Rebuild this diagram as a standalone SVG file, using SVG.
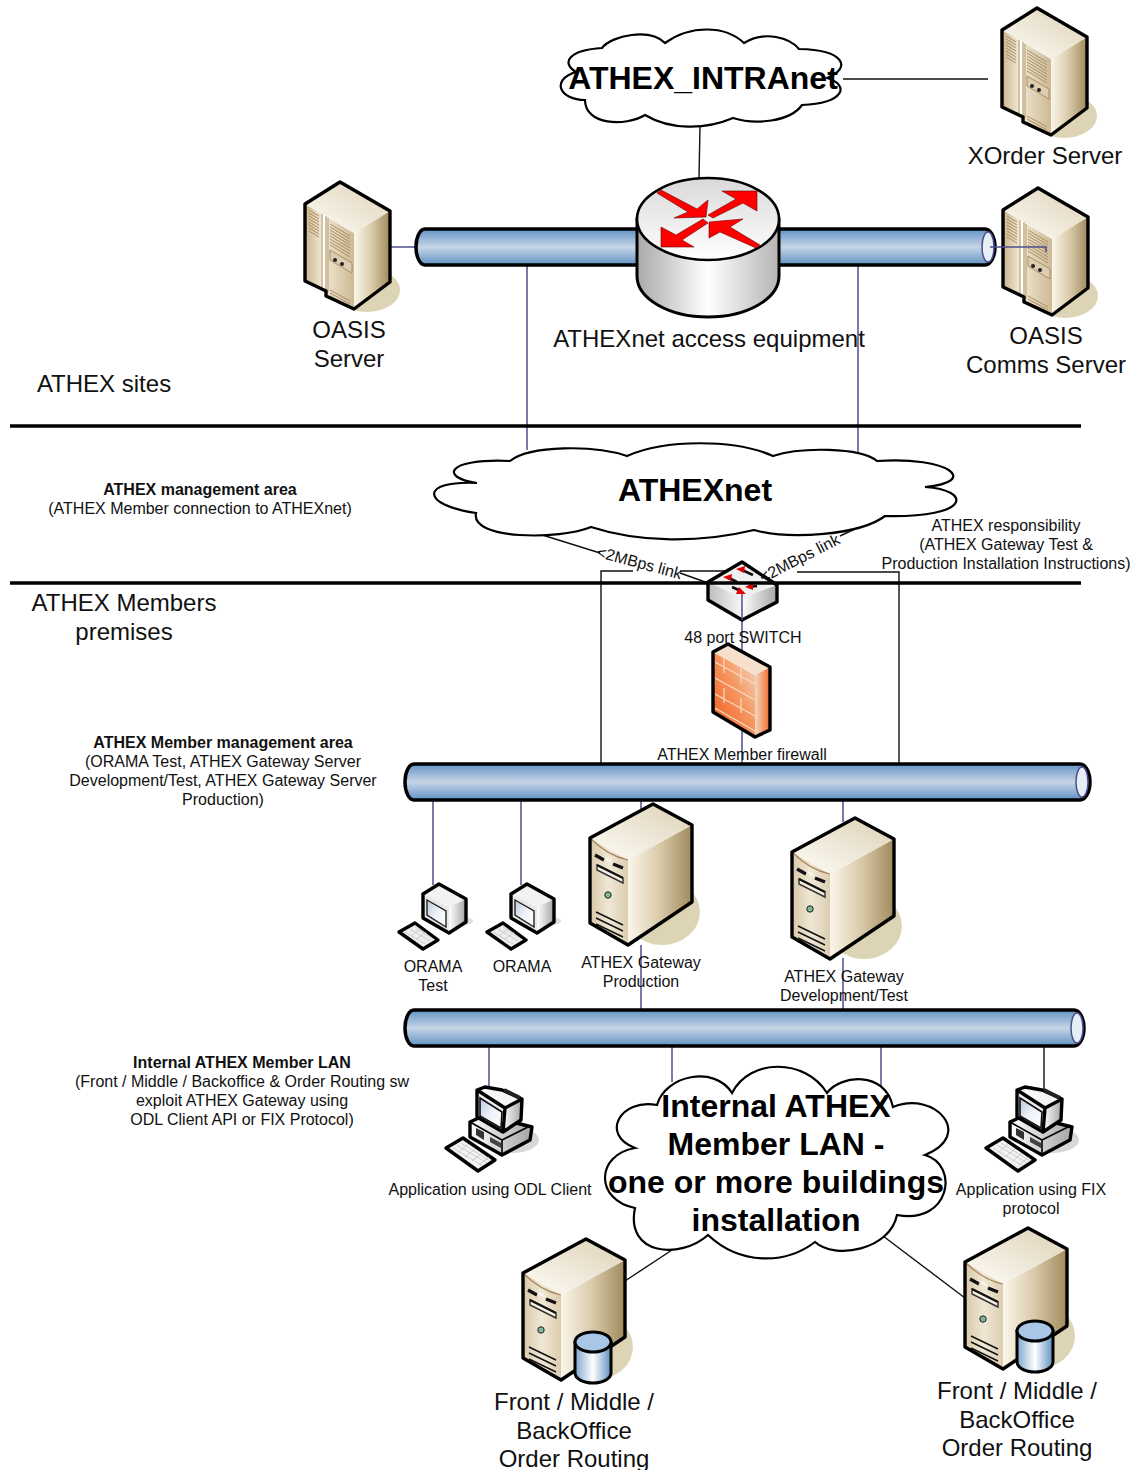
<svg xmlns="http://www.w3.org/2000/svg" xmlns:xlink="http://www.w3.org/1999/xlink" width="1133" height="1470" viewBox="0 0 1133 1470">
<style>
text{font-family:"Liberation Sans",Arial,sans-serif;fill:#111;text-anchor:middle}
.s{font-size:16px}.m{font-size:24px}.l{font-size:32px;font-weight:bold;fill:#000}.b{font-weight:bold}
.c{fill:none;stroke:#4e4e8e;stroke-width:1.5}
.k{fill:none;stroke:#111;stroke-width:1.4}
.sep{fill:none;stroke:#000;stroke-width:3.5}
.o{stroke:#000;stroke-width:3.4;stroke-linejoin:round}
.cloud{fill:#fff;stroke:#000;stroke-width:2.2;stroke-linejoin:miter}
.tube{fill:url(#tube);stroke:#000;stroke-width:3.5}
.end{fill:#e6eef6;stroke:#4e4e8e;stroke-width:1.5}
.red{fill:#f00;stroke:#600;stroke-width:.6}
.v{fill:none;stroke:#a98f63;stroke-width:1}
.d{fill:none;stroke:#111;stroke-width:1.4}
.br{fill:none;stroke:#f5dcc4;stroke-width:1.2}
.key{fill:none;stroke:#c4c4c4;stroke-width:.8}
</style>
<defs>
<linearGradient id="tube" x1="0" y1="0" x2="0" y2="1"><stop offset="0" stop-color="#5f93c4"/><stop offset=".5" stop-color="#c8d5e6"/><stop offset="1" stop-color="#5f93c4"/></linearGradient>
<linearGradient id="front" x1="0" y1="0" x2="1" y2="0"><stop offset="0" stop-color="#c9b48d"/><stop offset=".35" stop-color="#f2e9d6"/><stop offset="1" stop-color="#cdb995"/></linearGradient>
<linearGradient id="tfront" x1="0" y1="0" x2="1" y2="0"><stop offset="0" stop-color="#d8c8a8"/><stop offset=".5" stop-color="#efe7d5"/><stop offset="1" stop-color="#dccdb0"/></linearGradient>
<linearGradient id="side" x1="0" y1="0" x2="1" y2="0"><stop offset="0" stop-color="#fbf6ea"/><stop offset=".5" stop-color="#d9c9a8"/><stop offset="1" stop-color="#a08a5e"/></linearGradient>
<linearGradient id="topf" x1="0" y1="1" x2="1" y2="0"><stop offset="0" stop-color="#fffdf8"/><stop offset="1" stop-color="#ddd1b6"/></linearGradient>
<linearGradient id="rb" x1="0" y1="0" x2="1" y2="0"><stop offset="0" stop-color="#a9a9a9"/><stop offset=".5" stop-color="#fff"/><stop offset="1" stop-color="#b5b5b5"/></linearGradient>
<linearGradient id="rt" x1="0" y1="0" x2="0" y2="1"><stop offset="0" stop-color="#d9d9d9"/><stop offset="1" stop-color="#fff"/></linearGradient>
<linearGradient id="gl" x1="0" y1="0" x2="1" y2="0"><stop offset="0" stop-color="#bdbdbd"/><stop offset="1" stop-color="#f7f7f7"/></linearGradient>
<linearGradient id="gr" x1="0" y1="0" x2="1" y2="0"><stop offset="0" stop-color="#fff"/><stop offset="1" stop-color="#a4a4a4"/></linearGradient>
<linearGradient id="scr" x1="0" y1="0" x2="1" y2="1"><stop offset="0" stop-color="#b9c7de"/><stop offset=".5" stop-color="#eef2f9"/><stop offset="1" stop-color="#fff"/></linearGradient>
<linearGradient id="fw" x1="0" y1="1" x2="1" y2="0"><stop offset="0" stop-color="#f0581c"/><stop offset=".55" stop-color="#f6955f"/><stop offset="1" stop-color="#efe0cc"/></linearGradient>
<linearGradient id="fws" x1="0" y1="0" x2="1" y2="0"><stop offset="0" stop-color="#f2d8c0"/><stop offset="1" stop-color="#f26a28"/></linearGradient>
<linearGradient id="db" x1="0" y1="0" x2="1" y2="0"><stop offset="0" stop-color="#7fa6cf"/><stop offset=".5" stop-color="#fff"/><stop offset="1" stop-color="#5f8fc0"/></linearGradient>

<g id="rack">
<ellipse cx="62" cy="108" rx="33" ry="22" fill="#ddd3b5"/>
<polygon points="0,22 49,51 49,127 21,114 21,109 0,99" fill="url(#front)"/>
<polygon points="49,51 85,29 85,100 49,127" fill="url(#side)"/>
<polygon points="0,22 35,0 85,29 49,51" fill="url(#topf)"/>
<path d="M17,32V107M21,34V109M23,36V110" fill="none" stroke="#b59d74" stroke-width="1"/><path d="M19,33V108" stroke="#fff" stroke-width="2"/>
<path class="v" d="M4,28L14,34M4,31L14,37M4,34L14,40M4,37L14,43M4,40L14,46M4,43L14,49M4,46L14,52M4,49L14,55"/>
<path class="v" d="M25,42L45,54M25,45L45,57M25,48L45,60M25,51L45,63M25,54L45,66M25,57L45,69M25,60L45,72M25,63L45,75"/>
<polygon points="25,68 47,81 47,91 25,78" fill="#dccdb0" stroke="#a98f63"/>
<circle cx="30" cy="78" r="2" fill="#222"/><circle cx="37" cy="82" r="2" fill="#222"/>
<path class="v" d="M25,108L45,119M25,111L45,122M25,114L45,125"/>
<path class="o" fill="none" d="M0,22L35,0L85,29V100L49,127L21,114V109L0,99Z"/>
</g>

<g id="tower">
<ellipse cx="72" cy="108" rx="38" ry="33" fill="#ddd3b5"/>
<polygon points="0,34 38,56 38,141 0,119" fill="url(#tfront)"/>
<polygon points="38,56 102,21 102,98 38,141" fill="url(#side)"/>
<polygon points="0,34 63,0 102,21 38,56" fill="url(#topf)"/>
<path d="M0,34Q18,52 38,56" fill="none" stroke="#a58554" stroke-width="1.2"/>
<path d="M5,51L14,56M23,60L33,64" stroke="#111" stroke-width="3.2" fill="none"/>
<path d="M14,55Q18,50 23,59Z" fill="#f8f4ea"/>
<path d="M7,61L33,74V79L7,66Z" fill="#f4eee0" stroke="#333" stroke-width="1.4"/>
<path d="M7,61L33,74" stroke="#111" stroke-width="2" fill="none"/>
<circle cx="18" cy="91" r="3.2" fill="#7fb59a" stroke="#222" stroke-width="1"/>
<path class="d" d="M6,108L33,121M6,114L33,127M6,120L33,133"/>
<path class="o" fill="none" d="M0,34L63,0L102,21V98L38,141L0,119Z"/>
</g>

<g id="dbc">
<path d="M52,103V134A18,10 0 0 0 88,134V103Z" fill="url(#db)" stroke="#000" stroke-width="3"/>
<ellipse cx="70" cy="103" rx="18" ry="10" fill="#a9c6e6" stroke="#000" stroke-width="3"/>
</g>

<g id="ws">
<ellipse cx="32" cy="37" rx="18" ry="5" fill="#ddd"/>
<polygon points="0,10 16,0 43,15 26,23" fill="#f2f2f2"/>
<polygon points="0,10 26,23 26,49 0,34" fill="#e8e8e8"/>
<polygon points="26,23 43,15 43,38 26,49" fill="url(#gr)"/>
<polygon points="4,16 23,27 23,43 4,31" fill="url(#scr)" stroke="#222" stroke-width="1.4"/>
<path class="o" fill="none" d="M0,10L16,0L43,15V38L26,49L0,34Z"/>
<polygon points="-24,48 -8,39 15,56 0,65" fill="#eee" class="o"/>
<path class="key" d="M-18,48L2,60M-13,45L7,57M-8,43L10,55M-12,52L-3,45M-6,55L3,48"/>
</g>

<g id="pc">
<ellipse cx="42" cy="50" rx="27" ry="13" fill="#d8d8d8"/>
<polygon points="0,32 15,25 62,37 60,50 32,65 0,47" fill="url(#gr)" class="o"/>
<path d="M0,32L32,50V65M32,50L60,36" fill="none" stroke="#000" stroke-width="1.6"/>
<path d="M6,38L14,42V50L6,45Z" fill="#333"/><path d="M20,47L31,53V58L20,52Z" fill="#444"/>
<polygon points="35,18 52,9 51,30 33,42" fill="url(#gr)"/>
<polygon points="7,0 15,-3 32,0 52,9 35,18" fill="#f6f6f6"/>
<polygon points="7,0 35,18 33,42 7,27" fill="#ececec"/>
<polygon points="10,8 32,22 31,38 10,26" fill="url(#scr)" stroke="#111" stroke-width="1.6"/>
<path class="o" fill="none" d="M7,0L15,-3L32,0L52,9L51,30L33,42L7,27ZM7,0L35,18L33,42M35,18L52,9" stroke-width="2.8"/>
<path d="M34,0L50,8" stroke="#222" stroke-width="4"/>
<polygon points="-24,58 -7,48 25,70 8,81" fill="#f2f2f2" class="o"/>
<path class="key" d="M-17,58L13,76M-13,55L17,73M-9,53L20,71M-12,63L-2,54M-5,67L5,59M2,71L12,63M9,75L19,67"/>
</g>
</defs>

<g id="connectors">
<path class="k" d="M700,126L699,178M843,79H988"/>
<path class="c" d="M391,247H416M527,265V450M858,265V455"/>
<path class="k" d="M536,533L600,553M680,573L708,583M840,536L857,528M762,577L748,582"/>
<path class="k" d="M601,764V571H633M680,571H725M797,572H899V764"/>
<path class="c" d="M742,598V764"/>
<path class="c" d="M433,800V885M521,800V885M641,800V812M843,800V822M641,945V1010M843,958V1010"/>
<path class="c" d="M489,1046V1092M672,1046V1082M881,1046V1092"/>
<path class="k" d="M1044,1046V1090"/>
<path class="k" d="M672,1250L625,1281M883,1236L965,1298"/>
</g>

<g id="tube-1"><path class="tube" d="M425,229H985A10,18 0 0 1 985,265H425A9,18 0 0 1 425,229Z"/><ellipse class="end" cx="988" cy="247" rx="6" ry="15"/></g>
<g id="tube-2"><path class="tube" d="M414,764H1080A10,18 0 0 1 1080,800H414A9,18 0 0 1 414,764Z"/><ellipse class="end" cx="1082" cy="782" rx="6" ry="15"/></g>
<g id="tube-3"><path class="tube" d="M414,1010H1074A10,18 0 0 1 1074,1046H414A9,18 0 0 1 414,1010Z"/><ellipse class="end" cx="1077" cy="1028" rx="6" ry="15"/></g>

<g id="intranet-cloud">
<path class="cloud" d="M576,72C560,62 570,50 602,48C612,35 650,28 665,43C690,25 725,25 744,43C765,30 790,38 799,49C845,50 852,68 827,78C850,85 845,103 802,105C790,122 755,125 733,118C705,130 670,130 645,115C625,127 585,125 585,100C560,100 550,80 576,72Z"/>
<text class="l" x="703" y="89">ATHEX_INTRAnet</text>
</g>

<g id="xorder-server"><use href="#rack" x="1002" y="8"/><text class="m" x="1045" y="164">XOrder Server</text></g>
<g id="oasis-server"><use href="#rack" x="305" y="182"/><text class="m" x="349" y="338">OASIS</text><text class="m" x="349" y="367">Server</text></g>
<g id="oasis-comms-server"><use href="#rack" x="1003" y="188"/><path class="c" d="M990,247H1046V252"/><text class="m" x="1046" y="344">OASIS</text><text class="m" x="1046" y="373">Comms Server</text></g>

<g id="access-equipment">
<path d="M637,219V276A71,41 0 0 0 779,276V219Z" fill="url(#rb)" stroke="#000" stroke-width="3"/>
<ellipse cx="708" cy="219" rx="71" ry="41" fill="url(#rt)" stroke="#000" stroke-width="2.6"/>
<polygon class="red" points="661,190 697,209 708,200 706,217 674,218 688,212 657,193"/>
<polygon class="red" points="757,191 757,211 743,203 713,218 708,215 736,199 722,191"/>
<polygon class="red" points="661,247 661,227 676,235 703,219 708,223 682,240 694,247"/>
<polygon class="red" points="709,222 743,219 730,227 760,245 756,248 720,232 709,238"/>
<text class="m" x="709" y="347">ATHEXnet access equipment</text>
</g>

<g id="athexnet-cloud">
<path class="cloud" d="M476,513C420,505 420,480 477,483C440,478 445,458 510,461C530,445 595,445 627,456C665,439 735,439 773,456C800,447 860,447 877,461C950,456 980,482 925,487C972,490 972,518 885,516C860,535 790,540 754,530C700,543 640,543 591,527C560,540 470,540 476,513Z"/>
<text class="l" x="695" y="501">ATHEXnet</text>
</g>

<g id="switch">
<polygon points="708,582 742,562 777,585 742,598" fill="#f0f0f0"/>
<polygon points="708,582 742,598 742,620 708,600" fill="url(#gl)"/>
<polygon points="742,598 777,585 777,602 742,620" fill="url(#gr)"/>
<path class="o" fill="none" d="M708,582L742,562L777,585V602L742,620L708,600Z"/>
<path d="M742,570L753,575M729,578L737,582M741,591L732,587M757,586L748,587" stroke="#111" stroke-width="2.6" fill="none"/>
<path d="M736,569L745,566L744,573ZM723,577L732,574L731,581ZM746,594L736,594L739,587ZM745,587L753,583L753,590Z" fill="#e00000"/>
<path class="c" d="M742,594V620"/>
<text class="s" x="743" y="643">48 port SWITCH</text>
</g>

<g id="separators">
<path class="sep" d="M10,426H1081M10,583H1081"/>
</g>

<g id="firewall">
<polygon points="713,652 755,675 755,737 713,712" fill="url(#fw)"/>
<polygon points="755,675 770,667 770,730 755,737" fill="url(#fws)"/>
<polygon points="713,652 728,644 770,667 755,675" fill="#f6e0cb"/>
<path class="br" d="M715,662L755,684M715,678L755,700M715,694L755,716M715,708L755,731M724,657V673M741,667V684M724,688V703M741,698V713"/>
<path class="o" fill="none" d="M713,652L728,644L770,667V730L755,737L713,712Z"/>
<text class="s" x="742" y="760">ATHEX Member firewall</text>
</g>

<g id="link-labels">
<text class="s" transform="translate(638,568) rotate(15)">&lt;2MBps link</text>
<text class="s" transform="translate(802,563) rotate(-27)">&lt;2MBps link</text>
</g>

<g id="orama-test"><use href="#ws" x="423" y="884"/><text class="s" x="433" y="972">ORAMA</text><text class="s" x="433" y="991">Test</text></g>
<g id="orama"><use href="#ws" x="511" y="884"/><text class="s" x="522" y="972">ORAMA</text></g>
<g id="gateway-production"><use href="#tower" x="590" y="804"/><text class="s" x="641" y="968">ATHEX Gateway</text><text class="s" x="641" y="987">Production</text></g>
<g id="gateway-development"><use href="#tower" x="792" y="818"/><text class="s" x="844" y="982">ATHEX Gateway</text><text class="s" x="844" y="1001">Development/Test</text></g>

<g id="app-odl"><use href="#pc" x="470" y="1090"/><text class="s" x="490" y="1195">Application using ODL Client</text></g>
<g id="app-fix"><use href="#pc" x="1010" y="1090"/><text class="s" x="1031" y="1195">Application using FIX</text><text class="s" x="1031" y="1214">protocol</text></g>

<g id="internal-lan-cloud">
<path class="cloud" d="M635,1148C600,1135 620,1098 657,1105C665,1075 715,1065 732,1093C750,1058 805,1058 827,1093C840,1075 885,1070 893,1107C935,1090 975,1135 925,1155C960,1165 950,1225 897,1215C890,1250 835,1260 815,1242C785,1265 740,1265 708,1235C680,1260 625,1255 635,1208C595,1200 595,1155 635,1148Z"/>
<text class="l" x="776" y="1117">Internal ATHEX</text>
<text class="l" x="776" y="1155">Member LAN -</text>
<text class="l" x="776" y="1193">one or more buildings</text>
<text class="l" x="776" y="1231">installation</text>
</g>

<g id="backoffice-1"><use href="#tower" x="523" y="1239"/><use href="#dbc" x="523" y="1239"/><text class="m" x="574" y="1410">Front / Middle /</text><text class="m" x="574" y="1439">BackOffice</text><text class="m" x="574" y="1467">Order Routing</text></g>
<g id="backoffice-2"><use href="#tower" x="965" y="1228"/><use href="#dbc" x="965" y="1228"/><text class="m" x="1017" y="1399">Front / Middle /</text><text class="m" x="1017" y="1428">BackOffice</text><text class="m" x="1017" y="1456">Order Routing</text></g>

<g id="area-labels">
<text class="m" x="104" y="392">ATHEX sites</text>
<text class="s b" x="200" y="495">ATHEX management area</text>
<text class="s" x="200" y="514">(ATHEX Member connection to ATHEXnet)</text>
<text class="s" x="1006" y="531">ATHEX responsibility</text>
<text class="s" x="1006" y="550">(ATHEX Gateway Test &amp;</text>
<text class="s" x="1006" y="569">Production Installation Instructions)</text>
<text class="m" x="124" y="611">ATHEX Members</text>
<text class="m" x="124" y="640">premises</text>
<text class="s b" x="223" y="748">ATHEX Member management area</text>
<text class="s" x="223" y="767">(ORAMA Test, ATHEX Gateway Server</text>
<text class="s" x="223" y="786">Development/Test, ATHEX Gateway Server</text>
<text class="s" x="223" y="805">Production)</text>
<text class="s b" x="242" y="1068">Internal ATHEX Member LAN</text>
<text class="s" x="242" y="1087">(Front / Middle / Backoffice &amp; Order Routing sw</text>
<text class="s" x="242" y="1106">exploit ATHEX Gateway using</text>
<text class="s" x="242" y="1125">ODL Client API or FIX Protocol)</text>
</g>
</svg>
